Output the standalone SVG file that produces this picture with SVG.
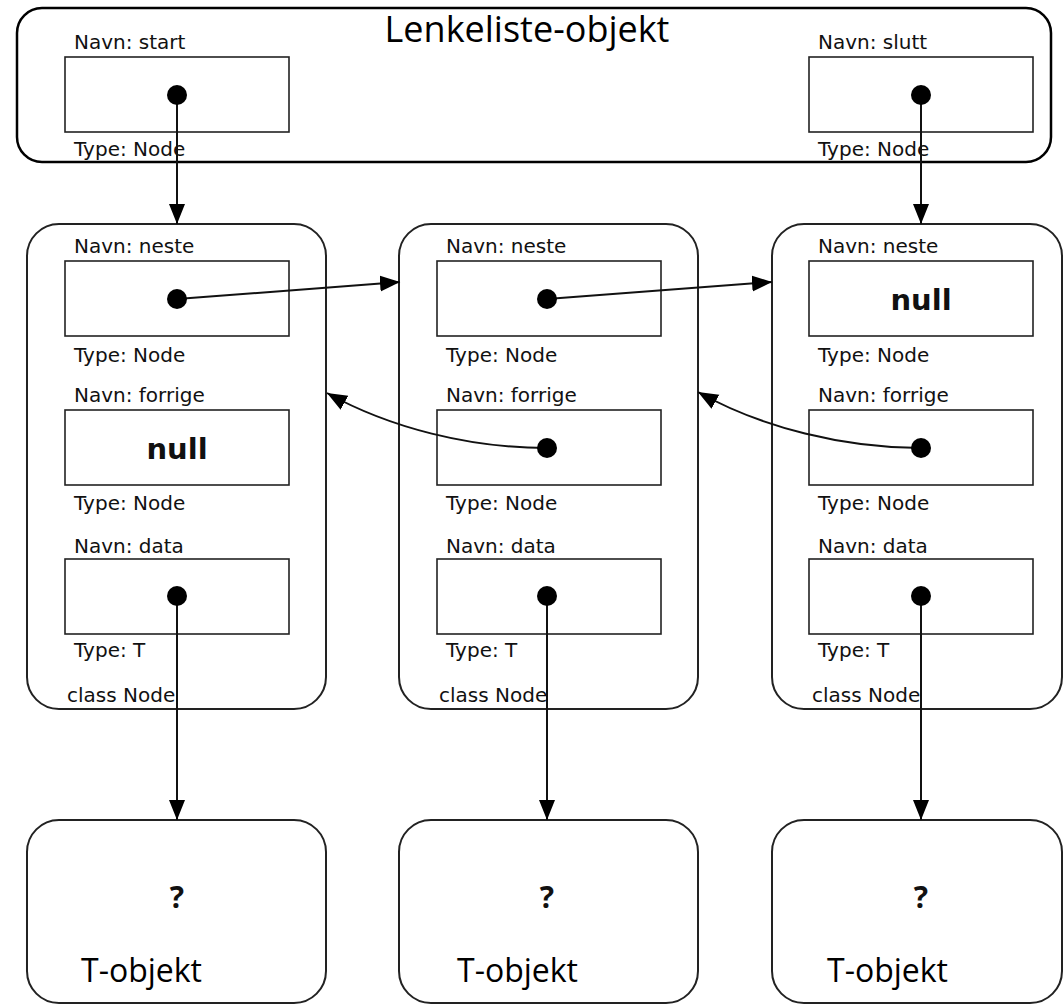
<svg xmlns="http://www.w3.org/2000/svg" width="1064" height="1005" viewBox="0 0 1064 1005">
<style>
.cont{fill:#fff;stroke:#000;stroke-width:2.5}
.node{fill:#fff;stroke:#222;stroke-width:2}
.field{fill:#fff;stroke:#222;stroke-width:1.6}
.lbl{font-family:"DejaVu Sans",sans-serif;font-size:20px;fill:#111}
.null{font-family:"DejaVu Sans",sans-serif;font-size:29px;font-weight:bold;fill:#111;text-anchor:middle}
.q{font-family:"Open Sans",sans-serif;font-size:30px;font-weight:bold;fill:#111;text-anchor:middle}
.big{font-family:"Open Sans",sans-serif;font-size:32px;fill:#000}
.title{font-family:"Open Sans",sans-serif;font-size:36px;fill:#000;text-anchor:middle}
.dot{fill:#000}
.conn{fill:none;stroke:#111;stroke-width:2}
</style>
<defs>
<marker id="arr" markerUnits="userSpaceOnUse" markerWidth="22" markerHeight="18" refX="20" refY="8" orient="auto">
<path d="M0,0 L20,8 L0,16 Z" fill="#000"/>
</marker>
</defs>

<g id="lenkeliste">
<rect class="cont" x="17" y="8" width="1034" height="154" rx="25" ry="25"/>
<text class="title" x="527" y="42">Lenkeliste-objekt</text>
<text class="lbl" x="74" y="49">Navn: start</text>
<rect class="field" x="65" y="57" width="224" height="75"/>
<text class="lbl" x="74" y="156">Type: Node</text>
<text class="lbl" x="818" y="49">Navn: slutt</text>
<rect class="field" x="809" y="57" width="224" height="75"/>
<text class="lbl" x="818" y="156">Type: Node</text>
</g>

<g id="node1">
<rect class="node" x="27" y="224" width="299" height="485" rx="32" ry="32"/>
<text class="lbl" x="74" y="253">Navn: neste</text>
<rect class="field" x="65" y="261" width="224" height="75"/>
<text class="lbl" x="74" y="362">Type: Node</text>
<text class="lbl" x="74" y="402">Navn: forrige</text>
<rect class="field" x="65" y="410" width="224" height="75"/>
<text class="null" x="177" y="459">null</text>
<text class="lbl" x="74" y="510">Type: Node</text>
<text class="lbl" x="74" y="553">Navn: data</text>
<rect class="field" x="65" y="559" width="224" height="75"/>
<text class="lbl" x="74" y="657">Type: T</text>
<text class="lbl" x="67" y="702">class Node</text>
</g>

<g id="node2">
<rect class="node" x="399" y="224" width="299" height="485" rx="32" ry="32"/>
<text class="lbl" x="446" y="253">Navn: neste</text>
<rect class="field" x="437" y="261" width="224" height="75"/>
<text class="lbl" x="446" y="362">Type: Node</text>
<text class="lbl" x="446" y="402">Navn: forrige</text>
<rect class="field" x="437" y="410" width="224" height="75"/>
<text class="lbl" x="446" y="510">Type: Node</text>
<text class="lbl" x="446" y="553">Navn: data</text>
<rect class="field" x="437" y="559" width="224" height="75"/>
<text class="lbl" x="446" y="657">Type: T</text>
<text class="lbl" x="439" y="702">class Node</text>
</g>

<g id="node3">
<rect class="node" x="772" y="224" width="290" height="485" rx="32" ry="32"/>
<text class="lbl" x="818" y="253">Navn: neste</text>
<rect class="field" x="809" y="261" width="224" height="75"/>
<text class="null" x="921" y="310">null</text>
<text class="lbl" x="818" y="362">Type: Node</text>
<text class="lbl" x="818" y="402">Navn: forrige</text>
<rect class="field" x="809" y="410" width="224" height="75"/>
<text class="lbl" x="818" y="510">Type: Node</text>
<text class="lbl" x="818" y="553">Navn: data</text>
<rect class="field" x="809" y="559" width="224" height="75"/>
<text class="lbl" x="818" y="657">Type: T</text>
<text class="lbl" x="812" y="702">class Node</text>
</g>

<g id="tobj1">
<rect class="node" x="27" y="820" width="299" height="183" rx="32" ry="32"/>
<text class="q" x="177" y="908">?</text>
<text class="big" x="81" y="982">T-objekt</text>
</g>
<g id="tobj2">
<rect class="node" x="399" y="820" width="299" height="183" rx="32" ry="32"/>
<text class="q" x="547" y="908">?</text>
<text class="big" x="457" y="982">T-objekt</text>
</g>
<g id="tobj3">
<rect class="node" x="772" y="820" width="290" height="183" rx="32" ry="32"/>
<text class="q" x="921" y="908">?</text>
<text class="big" x="827" y="982">T-objekt</text>
</g>

<g id="connectors">
<line class="conn" x1="177" y1="95" x2="177" y2="224" marker-end="url(#arr)"/>
<line class="conn" x1="921" y1="95" x2="921" y2="224" marker-end="url(#arr)"/>
<line class="conn" x1="177" y1="299" x2="400" y2="282" marker-end="url(#arr)"/>
<line class="conn" x1="547" y1="299" x2="772" y2="282" marker-end="url(#arr)"/>
<path class="conn" d="M547,448 C470,448 390,428 327,393" marker-end="url(#arr)"/>
<path class="conn" d="M921,448 C845,448 762,428 698,392" marker-end="url(#arr)"/>
<line class="conn" x1="177" y1="596" x2="177" y2="820" marker-end="url(#arr)"/>
<line class="conn" x1="547" y1="596" x2="547" y2="820" marker-end="url(#arr)"/>
<line class="conn" x1="921" y1="596" x2="921" y2="820" marker-end="url(#arr)"/>
<circle class="dot" cx="177" cy="95" r="10"/>
<circle class="dot" cx="921" cy="95" r="10"/>
<circle class="dot" cx="177" cy="299" r="10"/>
<circle class="dot" cx="547" cy="299" r="10"/>
<circle class="dot" cx="547" cy="448" r="10"/>
<circle class="dot" cx="921" cy="448" r="10"/>
<circle class="dot" cx="177" cy="596" r="10"/>
<circle class="dot" cx="547" cy="596" r="10"/>
<circle class="dot" cx="921" cy="596" r="10"/>
</g>
</svg>
